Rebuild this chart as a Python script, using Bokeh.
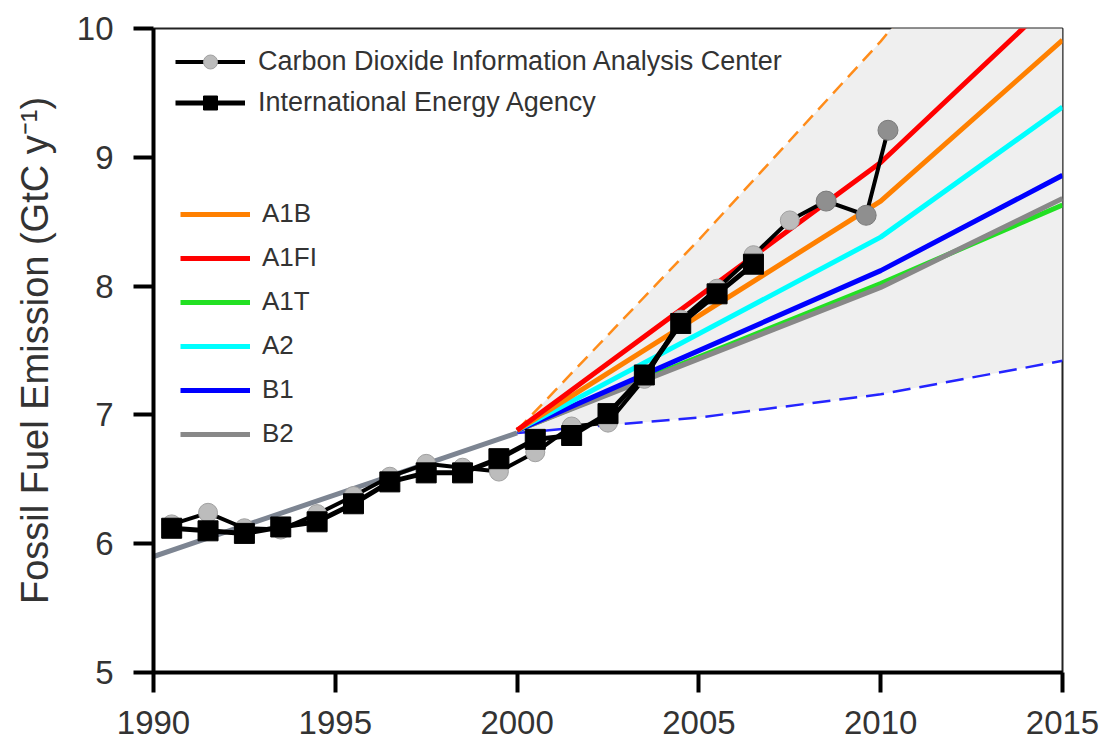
from bokeh.plotting import figure
from bokeh.models import Range1d, FixedTicker, Legend, LegendItem
from bokeh.embed import file_html
from bokeh.resources import INLINE

# ---------------- data ----------------
x_ticks = [1990, 1995, 2000, 2005, 2010, 2015]
y_ticks = [5, 6, 7, 8, 9, 10]

cdiac_years = [1990.5, 1991.5, 1992.5, 1993.5, 1994.5, 1995.5, 1996.5, 1997.5,
               1998.5, 1999.5, 2000.5, 2001.5, 2002.5, 2003.5, 2004.5, 2005.5,
               2006.5, 2007.5, 2008.5, 2009.6, 2010.2]
cdiac_vals = [6.15, 6.24, 6.12, 6.11, 6.23, 6.37, 6.52, 6.62,
              6.59, 6.56, 6.71, 6.91, 6.94, 7.28, 7.74, 7.98,
              8.24, 8.51, 8.66, 8.55, 9.21]

iea_years = [1990.5, 1991.5, 1992.5, 1993.5, 1994.5, 1995.5, 1996.5, 1997.5,
             1998.5, 1999.5, 2000.5, 2001.5, 2002.5, 2003.5, 2004.5, 2005.5,
             2006.5]
iea_vals = [6.12, 6.10, 6.08, 6.13, 6.17, 6.31, 6.48, 6.55,
            6.55, 6.66, 6.81, 6.84, 7.01, 7.31, 7.71, 7.94,
            8.17]

hist_years = [1990, 2000]
hist_vals = [5.90, 6.86]

scen_years = [2000, 2010, 2015]
a1b = [6.88, 8.66, 9.91]
a1fi = [6.88, 8.96, 10.29]
a1t = [6.88, 8.02, 8.63]
a2 = [6.88, 8.38, 9.39]
b1 = [6.88, 8.12, 8.86]
b2 = [6.88, 7.99, 8.68]

env_years = [2000, 2005, 2010, 2015]
env_upper = [6.88, 8.36, 9.90, 11.60]
env_lower = [6.86, 6.98, 7.16, 7.42]

# ---------------- figure ----------------
FONT = "Liberation Sans"
TXT = "#333333"

p = figure(width=1105, height=748,
           x_range=Range1d(1990, 2015), y_range=Range1d(5, 10),
           output_backend="svg", toolbar_location=None,
           min_border_left=153, min_border_right=43,
           min_border_top=28, min_border_bottom=76)
p.grid.visible = False
p.background_fill_color = "white"
p.border_fill_color = "white"
p.outline_line_color = "#222222"
p.outline_line_width = 2

for ax in (p.xaxis[0], p.yaxis[0]):
    ax.axis_line_width = 4
    ax.axis_line_color = "black"
    ax.major_tick_line_width = 4
    ax.major_tick_line_color = "black"
    ax.major_tick_out = 20
    ax.major_tick_in = 0
    ax.minor_tick_out = 0
    ax.minor_tick_in = 0
    ax.major_label_text_font = FONT
    ax.major_label_text_font_size = "33px"
    ax.major_label_text_color = TXT

p.xaxis.ticker = FixedTicker(ticks=x_ticks)
p.yaxis.ticker = FixedTicker(ticks=y_ticks)
p.xaxis.major_label_standoff = 18
p.yaxis.major_label_standoff = 20

p.yaxis.axis_label = "Fossil Fuel Emission (GtC y\u207b\u00b9)"
p.yaxis.axis_label_text_font = FONT
p.yaxis.axis_label_text_font_size = "38px"
p.yaxis.axis_label_text_font_style = "normal"
p.yaxis.axis_label_text_color = TXT
p.yaxis.axis_label_standoff = 18

# envelope
p.varea(x=env_years, y1=env_lower, y2=env_upper, fill_color="#efefef")
p.line(env_years, env_upper, line_color="#ff8c1a", line_width=2.5, line_dash="14 8")
p.line(env_years, env_lower, line_color="#2424ff", line_width=2.5, line_dash="18 9")

# scenarios
r_a1t = p.line(scen_years, a1t, line_color="#22e022", line_width=5)
r_b2 = p.line(scen_years, b2, line_color="#888888", line_width=5)
r_b1 = p.line(scen_years, b1, line_color="#0000ff", line_width=5)
r_a2 = p.line(scen_years, a2, line_color="#00ffff", line_width=5)
r_a1b = p.line(scen_years, a1b, line_color="#ff8000", line_width=5)
r_a1fi = p.line(scen_years, a1fi, line_color="#ff0000", line_width=5)

# historical trend
p.line(hist_years, hist_vals, line_color="#7d8592", line_width=5)

# observations
n_light = 18
cd_line = p.line(cdiac_years, cdiac_vals, line_color="black", line_width=4)
cd_pts = p.scatter(cdiac_years[:n_light], cdiac_vals[:n_light], marker="circle", size=19,
                   fill_color="#bcbcbc", line_color="#a0a0a0", line_width=1)
p.scatter(cdiac_years[n_light:], cdiac_vals[n_light:], marker="circle", size=20,
          fill_color="#8f8f8f", line_color="#7a7a7a", line_width=1)
iea_line = p.line(iea_years, iea_vals, line_color="black", line_width=5)
iea_pts = p.scatter(iea_years, iea_vals, marker="square", size=20,
                    fill_color="black", line_color="black")

leg1 = Legend(items=[
    LegendItem(label="Carbon Dioxide Information Analysis Center", renderers=[cd_line, cd_pts]),
    LegendItem(label="International Energy Agency", renderers=[iea_line, iea_pts]),
], location=(22, 552), orientation="vertical", glyph_width=70, glyph_height=35,
    label_height=35, spacing=6, padding=0, margin=0, label_standoff=13,
    background_fill_alpha=0, border_line_alpha=0,
    label_text_font=FONT, label_text_font_size="27px", label_text_color=TXT)

leg2 = Legend(items=[
    LegendItem(label="A1B", renderers=[r_a1b]),
    LegendItem(label="A1FI", renderers=[r_a1fi]),
    LegendItem(label="A1T", renderers=[r_a1t]),
    LegendItem(label="A2", renderers=[r_a2]),
    LegendItem(label="B1", renderers=[r_b1]),
    LegendItem(label="B2", renderers=[r_b2]),
], location=(27, 223), orientation="vertical", glyph_width=70, glyph_height=30,
    label_height=30, spacing=13, padding=0, margin=0, label_standoff=12,
    background_fill_alpha=0, border_line_alpha=0,
    label_text_font=FONT, label_text_font_size="26px", label_text_color=TXT)

p.add_layout(leg1)
p.add_layout(leg2)

open("out.html", "w").write(file_html(p, INLINE))
